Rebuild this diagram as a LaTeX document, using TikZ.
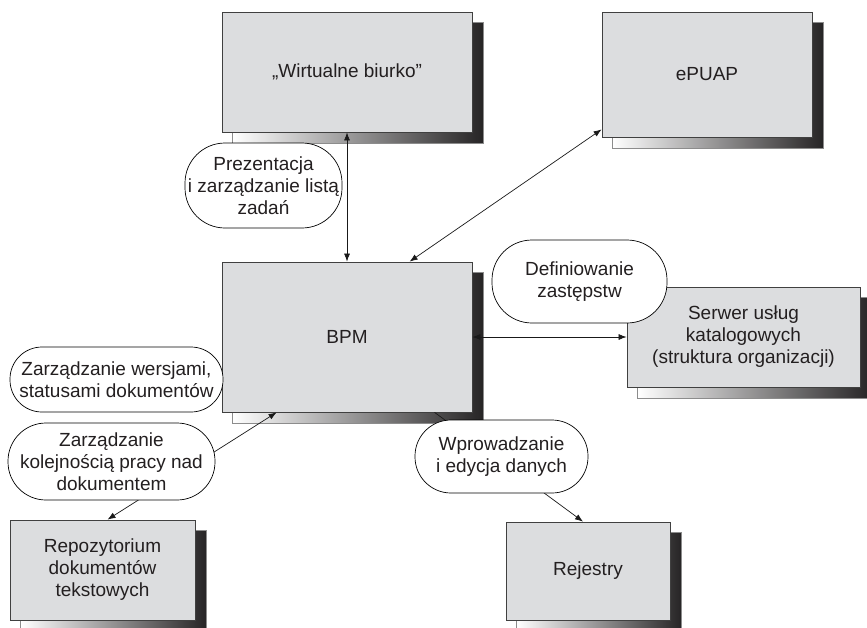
\documentclass[tikz,border=0pt]{standalone}
\usepackage{fontspec}
\setmainfont{Liberation Sans}
\usetikzlibrary{arrows.meta,calc}
\definecolor{boxgray}{RGB}{220,221,223}
\definecolor{txt}{RGB}{35,31,32}
\definecolor{shadowdark}{RGB}{38,36,37}
\pgfdeclarelayer{bg}
\pgfsetlayers{bg,main}
\begin{document}
\begin{tikzpicture}[x=1pt,y=-1pt,
  box/.style={draw=black!75, line width=0.8pt, fill=boxgray, inner sep=0pt,
    align=center, text=txt, font=\fontsize{19}{22}\selectfont},
  bubble/.style={draw=black, line width=0.7pt, fill=white, inner sep=0pt,
    align=center, text=txt, font=\fontsize{19}{22}\selectfont},
  conn/.style={draw=black!90, line width=0.7pt},
  tip/.style={-{Latex[length=8pt,width=6pt]}},
  tips/.style={{Latex[length=8pt,width=6pt]}-{Latex[length=8pt,width=6pt]}}]
\useasboundingbox (0,0) rectangle (867,627);
% boxes
\node[box, minimum width=250pt, minimum height=120pt] (wb) at (347,72) {„Wirtualne biurko''};
\node[box, minimum width=210pt, minimum height=125pt] (epuap) at (707,74.5) {ePUAP};
\node[box, minimum width=250pt, minimum height=150pt] (bpm) at (347,337) {BPM};
\node[box, minimum width=233pt, minimum height=100pt] (serwer) at (743.5,337) {Serwer usług\\katalogowych\\(struktura organizacji)};
\node[box, minimum width=185pt, minimum height=100pt] (repo) at (102.5,570) {Repozytorium\\dokumentów\\tekstowych};
\node[box, minimum width=164pt, minimum height=98pt] (rej) at (588,571) {Rejestry};
% shadows
\begin{pgfonlayer}{bg}
\foreach \n in {wb,epuap,bpm,serwer,repo,rej}{
  \shade[left color=white, right color=shadowdark, draw=black!45, line width=0.5pt]
    ($(\n.north west)+(11,11)$) rectangle ($(\n.south east)+(11,11)$);
}
\end{pgfonlayer}
% connectors
\coordinate (epuapend) at ($(epuap.south west)+(0,-8)$);
\coordinate (bpmtop) at ($(bpm.north west)+(188,0)$);
\coordinate (repotop) at ($(repo.north)+(5,0)$);
\coordinate (bpmbl) at ($(bpm.south west)+(55,0)$);
\coordinate (bpmbr) at ($(bpm.south west)+(213,0)$);
\coordinate (rejtop) at ($(rej.north)+(-5,0)$);
\draw[conn,tips] (wb.south) -- (bpm.north);
\draw[conn,tips] (epuapend) -- (bpmtop);
\draw[conn,tips] (bpm.east) -- (serwer.west);
\draw[conn,tips] (repotop) -- (bpmbl);
\draw[conn,tip] (bpmbr) -- (rejtop);
% labels
\node[bubble, minimum width=157pt, minimum height=85pt, rounded corners=40pt] (l1) at (263.5,185.5) {Prezentacja\\i zarządzanie listą\\zadań};
\node[bubble, minimum width=175pt, minimum height=83pt, rounded corners=40pt] (l2) at (579.5,281.5) {Definiowanie\\zastępstw};
\node[bubble, minimum width=213pt, minimum height=65pt, rounded corners=32pt] (l3) at (116.5,379.5) {Zarządzanie wersjami,\\statusami dokumentów};
\node[bubble, minimum width=207pt, minimum height=77pt, rounded corners=38pt] (l4) at (111.5,461.5) {Zarządzanie\\kolejnością pracy nad\\dokumentem};
\node[bubble, minimum width=173pt, minimum height=73pt, rounded corners=36pt] (l5) at (501.5,456.5) {Wprowadzanie\\i edycja danych};
\end{tikzpicture}
\end{document}
